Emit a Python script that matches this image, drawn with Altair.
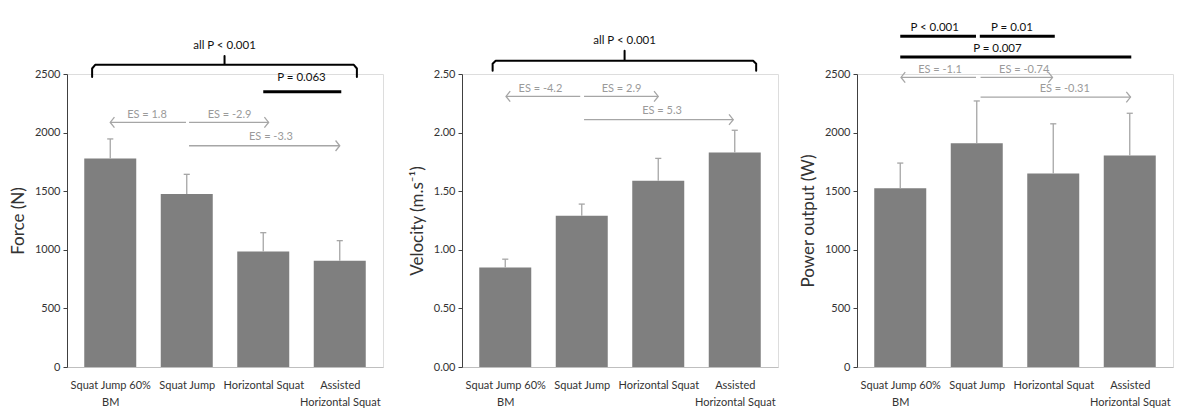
import json
import altair as alt
import pandas as pd

# ---------------- data ----------------
categories = ["Squat Jump 60%\nBM", "Squat Jump", "Horizontal Squat", "Assisted\nHorizontal Squat"]
positions = [0, 1, 2, 3]

force_mean = [1778, 1476, 986, 906]
force_sd = [168, 168, 160, 172]
velocity_mean = [0.85, 1.29, 1.59, 1.83]
velocity_sd = [0.07, 0.10, 0.19, 0.19]
power_mean = [1525, 1910, 1650, 1805]
power_sd = [215, 360, 425, 360]

# ---------------- annotations (data coordinates) ----------------
# brace: left, right, centre, low, mid, peak
force_brace = [-0.237, 3.224, 1.494, 2475, 2578, 2654]
velocity_brace = [-0.165, 3.28, 1.56, 2.528, 2.613, 2.699]

# black significance bars: x1, x2, y
force_sig = [(2.0, 3.02, 2348)]
velocity_sig = []
power_sig = [(0.0, 0.99, 2823), (1.04, 2.02, 2823), (0.0, 3.02, 2644)]

# black p-value texts: text, x, y
force_ptext = [("all P < 0.001", 1.494, 2736), ("P = 0.063", 2.5, 2466)]
velocity_ptext = [("all P < 0.001", 1.56, 2.784)]
power_ptext = [("P < 0.001", 0.45, 2895), ("P = 0.01", 1.46, 2895), ("P = 0.007", 1.27, 2716)]

# grey effect-size texts: text, x, y
force_es = [("ES = 1.8", 0.48, 2146), ("ES = -2.9", 1.56, 2146), ("ES = -3.3", 2.1, 1961)]
velocity_es = [("ES = -4.2", 0.46, 2.375), ("ES = 2.9", 1.52, 2.375), ("ES = 5.3", 2.05, 2.181)]
power_es = [("ES = -1.1", 0.52, 2535), ("ES = -0.74", 1.62, 2535), ("ES = -0.31", 2.15, 2370)]

# grey arrows: x_from, x_to, y
force_arrows = [(0.99, 0.0, 2087), (1.03, 2.07, 2087), (1.03, 3.0, 1888)]
velocity_arrows = [(0.98, 0.01, 2.309), (1.03, 2.0, 2.309), (1.03, 2.98, 2.110)]
power_arrows = [(0.99, 0.01, 2471), (1.05, 1.99, 2471), (1.05, 3.01, 2303)]

FONT = "Lato"
BAR = "#7f7f7f"
LIGHT = "#a6a6a6"
ES_TEXT = "#9a9a9a"

label_arrays = [c.split("\n") for c in categories]
label_expr = json.dumps(label_arrays).replace('"', "'") + "[datum.value]"

LEFT_ARROW = "M 0.8 -1 L 0 0 L 0.8 1"
RIGHT_ARROW = "M -0.8 -1 L 0 0 L -0.8 1"


def panel(mean, sd, ymax, yvalues, yfmt, ytitle, brace, sig, ptext, es, arrows, width):
    xscale = alt.Scale(domain=[-0.5, 3.5], nice=False, zero=False)
    yscale = alt.Scale(domain=[0, ymax], nice=False)
    xaxis = alt.Axis(values=positions, labelExpr=label_expr, ticks=False, grid=False,
                     domainColor="#bfbfbf", labelFontSize=11, labelColor="#333333",
                     labelPadding=12, labelLineHeight=17, labelFont=FONT, labelOverlap=False,
                     labelBound=False)
    yaxis = alt.Axis(values=yvalues, format=yfmt, grid=False,
                     domainColor="#404040", tickColor="#404040", tickSize=4,
                     labelFontSize=11, labelColor="#333333", labelPadding=3,
                     titleFontSize=17, titleFontWeight="normal", titleColor="#333333",
                     titlePadding=7, labelFont=FONT, titleFont=FONT)

    def X(field):
        return alt.X(field, scale=xscale, axis=xaxis, title=None)

    def Y(field):
        return alt.Y(field, scale=yscale, axis=yaxis, title=ytitle)

    df = pd.DataFrame({"pos": positions, "mean": mean, "sd": sd})
    df["top"] = df["mean"] + df["sd"]
    df["capL"] = df["pos"] - 0.04
    df["capR"] = df["pos"] + 0.04

    bars = alt.Chart(df).mark_bar(size=52, color=BAR).encode(x=X("pos:Q"), y=Y("mean:Q"))
    err = alt.Chart(df).mark_rule(color=LIGHT, strokeWidth=1.3).encode(
        x=X("pos:Q"), y=Y("mean:Q"), y2="top:Q")
    cap = alt.Chart(df).mark_rule(color=LIGHT, strokeWidth=1.3).encode(
        x=X("capL:Q"), x2="capR:Q", y=Y("top:Q"))
    layers = [bars, err, cap]

    if brace is not None:
        L, R, C, lo, mid, pk = brace
        corner = (mid - lo) * 0.3
        pts = [(L, lo), (L, mid - corner), (L + 0.04, mid), (C, mid), (C, pk), (C, mid),
               (R - 0.04, mid), (R, mid - corner), (R, lo)]
        bdf = pd.DataFrame({"x": [p[0] for p in pts], "y": [p[1] for p in pts],
                            "k": list(range(len(pts)))})
        layers.append(alt.Chart(bdf).mark_line(color="black", strokeWidth=2, strokeJoin="round",
                                                strokeCap="round").encode(
            x=X("x:Q"), y=Y("y:Q"), order="k:Q"))

    if sig:
        sdf = pd.DataFrame(sig, columns=["x1", "x2", "y"])
        layers.append(alt.Chart(sdf).mark_rule(color="black", strokeWidth=3).encode(
            x=X("x1:Q"), x2="x2:Q", y=Y("y:Q")))

    pdf = pd.DataFrame(ptext, columns=["t", "x", "y"])
    layers.append(alt.Chart(pdf).mark_text(font=FONT, fontSize=11.5, color="#111111").encode(
        x=X("x:Q"), y=Y("y:Q"), text="t:N"))

    edf = pd.DataFrame(es, columns=["t", "x", "y"])
    layers.append(alt.Chart(edf).mark_text(font=FONT, fontSize=11, color=ES_TEXT).encode(
        x=X("x:Q"), y=Y("y:Q"), text="t:N"))

    adf = pd.DataFrame(arrows, columns=["x1", "x2", "y"])
    adf["dir"] = ["left" if b < a else "right" for a, b, _ in arrows]
    layers.append(alt.Chart(adf).mark_rule(color=LIGHT, strokeWidth=1.3).encode(
        x=X("x1:Q"), x2="x2:Q", y=Y("y:Q")))
    layers.append(alt.Chart(adf).mark_point(filled=False, color=LIGHT, strokeWidth=1.3, size=110,
                                            opacity=1).encode(
        x=X("x2:Q"), y=Y("y:Q"),
        shape=alt.Shape("dir:N", scale=alt.Scale(domain=["left", "right"],
                                                 range=[LEFT_ARROW, RIGHT_ARROW]), legend=None)))

    return alt.layer(*layers).properties(width=width, height=293)


p1 = panel(force_mean, force_sd, 2500, [0, 500, 1000, 1500, 2000, 2500], "d", "Force (N)",
           force_brace, force_sig, force_ptext, force_es, force_arrows, 316)
p2 = panel(velocity_mean, velocity_sd, 2.5, [0, 0.5, 1.0, 1.5, 2.0, 2.5], ".2f", "Velocity (m.s⁻¹)",
           velocity_brace, velocity_sig, velocity_ptext, velocity_es, velocity_arrows, 316)
p3 = panel(power_mean, power_sd, 2500, [0, 500, 1000, 1500, 2000, 2500], "d", "Power output  (W)",
           None, power_sig, power_ptext, power_es, power_arrows, 316)

chart = alt.hconcat(p1, p2, p3, spacing=79, bounds="flush").properties(
    padding={"left": 0, "top": 13, "right": 0, "bottom": 0}
).configure_view(strokeWidth=0).configure(font=FONT)

chart.save("out.html", embed_options={"renderer": "svg", "actions": False})
